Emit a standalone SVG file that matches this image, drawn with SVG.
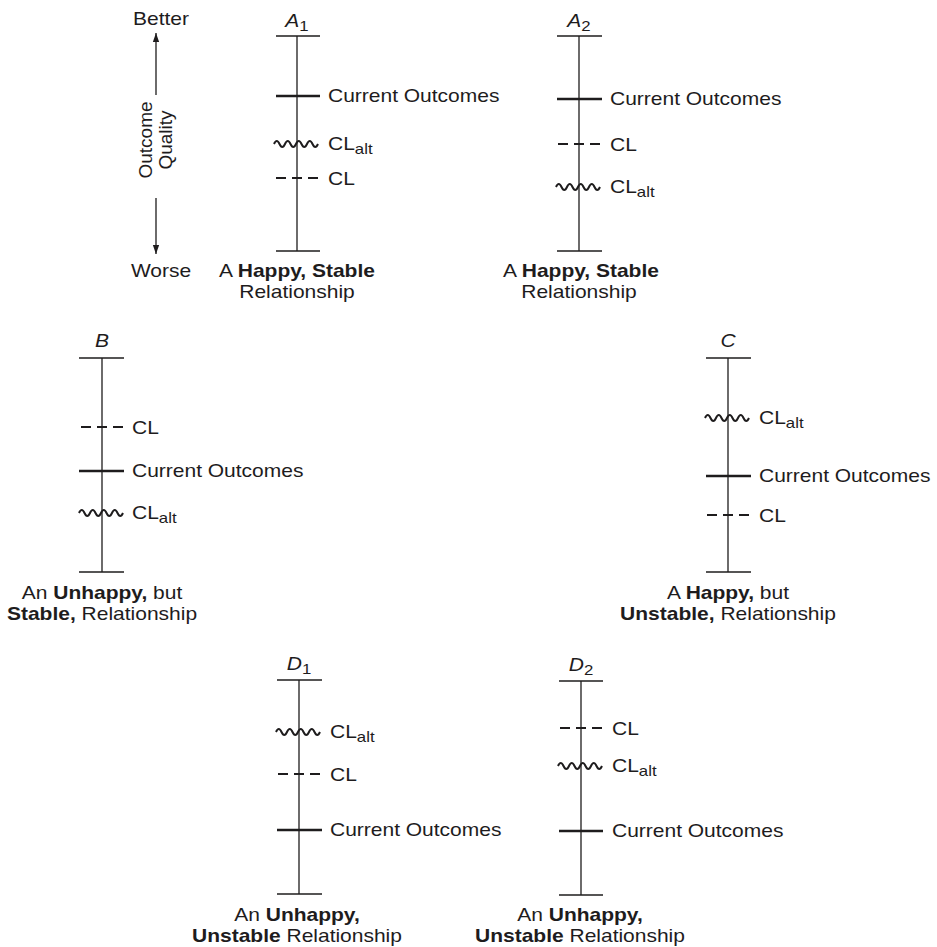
<svg xmlns="http://www.w3.org/2000/svg" xmlns:xlink="http://www.w3.org/1999/xlink" width="937" height="947" viewBox="0 0 937 947">
<style>
.t{font-family:"Liberation Sans",Arial,sans-serif;font-size:17.5px;fill:#1e1c1d}
.r{font-size:19px}
.b{font-weight:bold}
.i{font-style:italic}
.sub{font-size:14px}
.ax{stroke:#1e1c1d;stroke-width:1.3;fill:none}
.cur{stroke:#1e1c1d;stroke-width:2.6;fill:none}
.dash{stroke:#1e1c1d;stroke-width:2.2;stroke-dasharray:10 6;fill:none}
.wave{stroke:#1e1c1d;stroke-width:2;fill:none}
</style>
<defs>
<path id="wv" class="wave" d="M-23,0 q2.75,-6 5.5,0 t5.5,0 t5.5,0 t5.5,0 t5.5,0 t5.5,0 t5.5,0 t5.5,0"/>
<marker id="ah" viewBox="0 0 10 10" refX="10" refY="5" markerWidth="9" markerHeight="9" markerUnits="userSpaceOnUse" orient="auto">
<path d="M0,1.5 L10,5 L0,8.5 Z" fill="#1e1c1d"/>
</marker>
</defs>

<g id="legend">
<text class="t" text-anchor="middle" transform="translate(161,25) scale(1.2,1)">Better</text>
<text class="t" text-anchor="middle" transform="translate(161,277) scale(1.2,1)">Worse</text>
<text class="t r" text-anchor="middle" transform="translate(152,140) rotate(-90)">Outcome</text>
<text class="t r" text-anchor="middle" transform="translate(172,140) rotate(-90)">Quality</text>
</g>
<g id="connectors">
<line class="ax" x1="156" y1="95" x2="156" y2="33" marker-end="url(#ah)"/>
<line class="ax" x1="156" y1="198" x2="156" y2="254" marker-end="url(#ah)"/>
</g>

<g id="A1" transform="translate(297,0)">
<line class="ax" x1="0" y1="36" x2="0" y2="251"/>
<line class="ax" x1="-21" y1="36" x2="23" y2="36"/>
<line class="ax" x1="-21" y1="251" x2="23" y2="251"/>
<line class="cur" x1="-21" y1="96" x2="23" y2="96"/>
<use xlink:href="#wv" y="144"/>
<line class="dash" x1="-21" y1="178" x2="21" y2="178"/>
<text class="t" text-anchor="middle" transform="translate(0,27) scale(1.2,1)"><tspan class="i">A</tspan><tspan class="sub" dy="4">1</tspan></text>
<text class="t" transform="translate(31,101.5) scale(1.2,1)">Current Outcomes</text>
<text class="t" transform="translate(31,150) scale(1.2,1)">CL<tspan class="sub" dy="4">alt</tspan></text>
<text class="t" transform="translate(31,184.5) scale(1.2,1)">CL</text>
<text class="t" text-anchor="middle" transform="translate(0,277) scale(1.2,1)">A <tspan class="b">Happy, Stable</tspan></text>
<text class="t" text-anchor="middle" transform="translate(0,298) scale(1.2,1)">Relationship</text>
</g>

<g id="A2" transform="translate(579,0)">
<line class="ax" x1="0" y1="36" x2="0" y2="251"/>
<line class="ax" x1="-22" y1="36" x2="23" y2="36"/>
<line class="ax" x1="-22" y1="251" x2="23" y2="251"/>
<line class="cur" x1="-22" y1="99" x2="23" y2="99"/>
<line class="dash" x1="-21" y1="144" x2="21" y2="144"/>
<use xlink:href="#wv" y="187"/>
<text class="t" text-anchor="middle" transform="translate(0,27) scale(1.2,1)"><tspan class="i">A</tspan><tspan class="sub" dy="4">2</tspan></text>
<text class="t" transform="translate(31,104.5) scale(1.2,1)">Current Outcomes</text>
<text class="t" transform="translate(31,150.5) scale(1.2,1)">CL</text>
<text class="t" transform="translate(31,193) scale(1.2,1)">CL<tspan class="sub" dy="4">alt</tspan></text>
<text class="t" text-anchor="middle" transform="translate(2,277) scale(1.2,1)">A <tspan class="b">Happy, Stable</tspan></text>
<text class="t" text-anchor="middle" transform="translate(0,298) scale(1.2,1)">Relationship</text>
</g>

<g id="B" transform="translate(102,0)">
<line class="ax" x1="0" y1="358" x2="0" y2="572"/>
<line class="ax" x1="-23" y1="358" x2="22" y2="358"/>
<line class="ax" x1="-23" y1="572" x2="22" y2="572"/>
<line class="dash" x1="-21" y1="427" x2="21" y2="427"/>
<line class="cur" x1="-23" y1="471" x2="22" y2="471"/>
<use xlink:href="#wv" y="513"/>
<text class="t i" text-anchor="middle" transform="translate(0,347) scale(1.2,1)">B</text>
<text class="t" transform="translate(30,433.5) scale(1.2,1)">CL</text>
<text class="t" transform="translate(30,476.5) scale(1.2,1)">Current Outcomes</text>
<text class="t" transform="translate(30,519) scale(1.2,1)">CL<tspan class="sub" dy="4">alt</tspan></text>
<text class="t" text-anchor="middle" transform="translate(0,599) scale(1.2,1)">An <tspan class="b">Unhappy,</tspan> but</text>
<text class="t" text-anchor="middle" transform="translate(0,620) scale(1.2,1)"><tspan class="b">Stable,</tspan> Relationship</text>
</g>

<g id="C" transform="translate(728,0)">
<line class="ax" x1="0" y1="358" x2="0" y2="572"/>
<line class="ax" x1="-22" y1="358" x2="23" y2="358"/>
<line class="ax" x1="-22" y1="572" x2="23" y2="572"/>
<use xlink:href="#wv" y="418"/>
<line class="cur" x1="-22" y1="476" x2="23" y2="476"/>
<line class="dash" x1="-21" y1="515" x2="21" y2="515"/>
<text class="t i" text-anchor="middle" transform="translate(0,347) scale(1.2,1)">C</text>
<text class="t" transform="translate(31,424) scale(1.2,1)">CL<tspan class="sub" dy="4">alt</tspan></text>
<text class="t" transform="translate(31,481.5) scale(1.2,1)">Current Outcomes</text>
<text class="t" transform="translate(31,521.5) scale(1.2,1)">CL</text>
<text class="t" text-anchor="middle" transform="translate(0,599) scale(1.2,1)">A <tspan class="b">Happy,</tspan> but</text>
<text class="t" text-anchor="middle" transform="translate(0,620) scale(1.2,1)"><tspan class="b">Unstable,</tspan> Relationship</text>
</g>

<g id="D1" transform="translate(299,0)">
<line class="ax" x1="0" y1="680" x2="0" y2="894"/>
<line class="ax" x1="-22" y1="680" x2="23" y2="680"/>
<line class="ax" x1="-22" y1="894" x2="23" y2="894"/>
<use xlink:href="#wv" y="732"/>
<line class="dash" x1="-21" y1="774" x2="21" y2="774"/>
<line class="cur" x1="-22" y1="830" x2="23" y2="830"/>
<text class="t" text-anchor="middle" transform="translate(0,670) scale(1.2,1)"><tspan class="i">D</tspan><tspan class="sub" dy="4">1</tspan></text>
<text class="t" transform="translate(31,738) scale(1.2,1)">CL<tspan class="sub" dy="4">alt</tspan></text>
<text class="t" transform="translate(31,780.5) scale(1.2,1)">CL</text>
<text class="t" transform="translate(31,835.5) scale(1.2,1)">Current Outcomes</text>
<text class="t" text-anchor="middle" transform="translate(-2,921) scale(1.2,1)">An <tspan class="b">Unhappy,</tspan></text>
<text class="t" text-anchor="middle" transform="translate(-2,942) scale(1.2,1)"><tspan class="b">Unstable</tspan> Relationship</text>
</g>

<g id="D2" transform="translate(581,0)">
<line class="ax" x1="0" y1="681" x2="0" y2="895"/>
<line class="ax" x1="-22" y1="681" x2="22" y2="681"/>
<line class="ax" x1="-22" y1="895" x2="22" y2="895"/>
<line class="dash" x1="-21" y1="728" x2="21" y2="728"/>
<use xlink:href="#wv" y="766"/>
<line class="cur" x1="-22" y1="831" x2="22" y2="831"/>
<text class="t" text-anchor="middle" transform="translate(0,671) scale(1.2,1)"><tspan class="i">D</tspan><tspan class="sub" dy="4">2</tspan></text>
<text class="t" transform="translate(31,734.5) scale(1.2,1)">CL</text>
<text class="t" transform="translate(31,772) scale(1.2,1)">CL<tspan class="sub" dy="4">alt</tspan></text>
<text class="t" transform="translate(31,836.5) scale(1.2,1)">Current Outcomes</text>
<text class="t" text-anchor="middle" transform="translate(-1,921) scale(1.2,1)">An <tspan class="b">Unhappy,</tspan></text>
<text class="t" text-anchor="middle" transform="translate(-1,942) scale(1.2,1)"><tspan class="b">Unstable</tspan> Relationship</text>
</g>
</svg>
